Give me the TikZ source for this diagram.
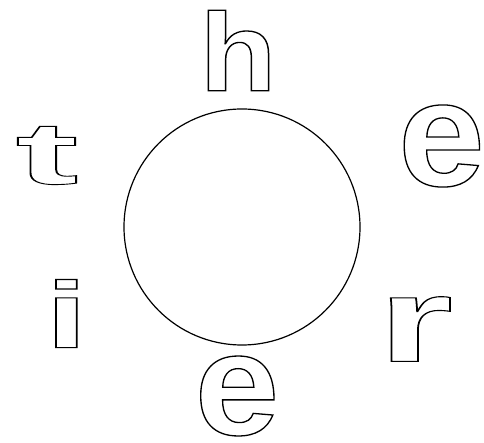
\documentclass[tikz,border=0pt]{standalone}
\usepackage{fontspec}
\setmainfont{Liberation Sans}
\newcommand{\olet}[2]{\special{pdf:literal direct 1 Tr #1 w}#2\special{pdf:literal direct 0 Tr}}
\tikzset{letter/.style={inner sep=0pt, outer sep=0pt, font=\bfseries}}
\begin{document}
\begin{tikzpicture}[x=1pt,y=-1pt]
\useasboundingbox (0,0) rectangle (484,443);
\draw[line width=1.2pt] (242,227) circle[radius=118];
\node[letter] (h) at (238,50.5) {\scalebox{1.13}[1]{\fontsize{111pt}{111pt}\selectfont\olet{1.3}{h}}};
\node[letter] (t) at (47,155.5) {\scalebox{2.15}[1]{\fontsize{88pt}{88pt}\selectfont\olet{0.9}{t}}};
\node[letter] (e1) at (441.5,146) {\scalebox{1.04}[1]{\fontsize{150pt}{150pt}\selectfont\olet{1.3}{e}}};
\node[letter] (r) at (415.5,329) {\scalebox{1.6}[1]{\fontsize{120pt}{120pt}\selectfont\olet{1.1}{r}}};
\node[letter] (e2) at (237,396) {\scalebox{1.04}[1]{\fontsize{146pt}{146pt}\selectfont\olet{1.3}{e}}};
\node[letter] (i) at (66.5,313.5) {\scalebox{1.6}[1]{\fontsize{94pt}{94pt}\selectfont\olet{1.1}{i}}};
\end{tikzpicture}
\end{document}
